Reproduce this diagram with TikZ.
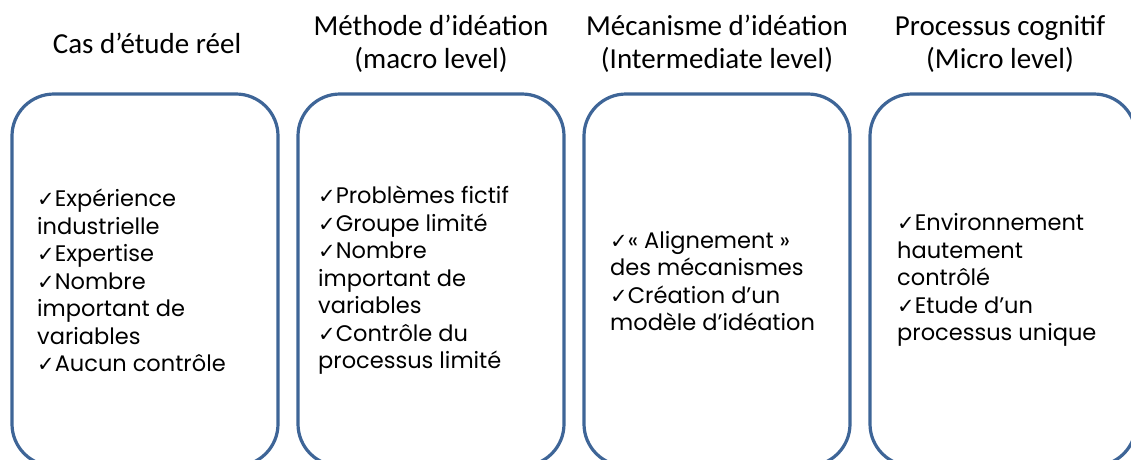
\documentclass[tikz,border=0pt]{standalone}
\usepackage{fontspec}
\setmainfont{Carlito}
\newfontfamily\itemfont{Poppins}
\newfontfamily\checkfont{DejaVu Sans}
\usetikzlibrary{positioning}
\definecolor{boxblue}{HTML}{3E6597}
\newcommand{\chk}{{\checkfont\fontsize{21}{21}\selectfont ✓}}

\begin{document}
\begin{tikzpicture}[x=1pt, y=-1pt,
    panel/.style={draw=boxblue, line width=3.2pt, rounded corners=42pt,
        minimum width=266pt, minimum height=372pt, inner sep=0pt},
    heading/.style={font=\fontsize{29}{33}\selectfont, align=center, inner sep=0pt},
    items/.style={font=\itemfont\fontsize{22.5}{27.5}\selectfont, align=left,
        anchor=west, inner sep=0pt}]

    % Frame
    \useasboundingbox (0,0) rectangle (1131,459);

    % Panels
    \foreach \n/\x in {1/145, 2/431, 3/717, 4/1003}
        \node[panel] (panel\n) at (\x,280) {};

    % Headings
    \node[heading] (head1) at (147,43) {Cas d’étude réel};
    \node[heading] (head2) at (431,44) {Méthode d’idéation\\(macro level)};
    \node[heading] (head3) at (717,44) {Mécanisme d’idéation\\(Intermediate level)};
    \node[heading] (head4) at (1000,44) {Processus cognitif\\(Micro level)};

    % Items
    \node[items] (list1) at (37,280.5) {\chk Expérience\\industrielle\\\chk Expertise\\\chk Nombre\\important de\\variables\\\chk Aucun contrôle};
    \node[items] (list2) at (318,280.5) {\chk Problèmes fictif\\\chk Groupe limité\\\chk Nombre\\important de\\variables\\\chk Contrôle du\\processus limité};
    \node[items] (list3) at (610,281) {\chk« Alignement »\\des mécanismes\\\chk Création d’un\\modèle d’idéation};
    \node[items] (list4) at (897,280) {\chk Environnement\\hautement\\contrôlé\\\chk Etude d’un\\processus unique};

\end{tikzpicture}
\end{document}
